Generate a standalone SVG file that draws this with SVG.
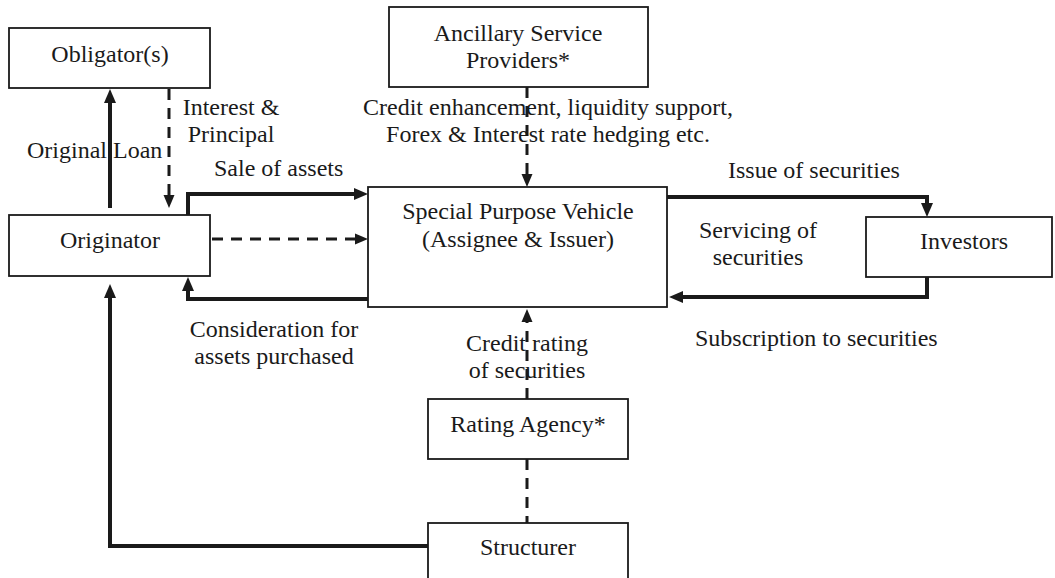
<svg xmlns="http://www.w3.org/2000/svg" width="1055" height="578" viewBox="0 0 1055 578">
<style>
.box{fill:#fff;stroke:#1a1a1a;stroke-width:1.8}
text{font-family:"Liberation Serif","Times New Roman",serif;font-size:24px;fill:#1a1a1a}
.c{text-anchor:middle}
.thick{fill:none;stroke:#1a1a1a;stroke-width:4}
.dash{fill:none;stroke:#1a1a1a;stroke-width:3;stroke-dasharray:11 8}
</style>
<defs>
<marker id="ah" markerUnits="userSpaceOnUse" markerWidth="14" markerHeight="12" refX="0" refY="6" orient="auto" overflow="visible">
<path d="M0,0 L14,6 L0,12 z" fill="#1a1a1a"/>
</marker>
<marker id="ahs" markerUnits="userSpaceOnUse" markerWidth="13" markerHeight="11" refX="0" refY="5.5" orient="auto" overflow="visible">
<path d="M0,0 L13,5.5 L0,11 z" fill="#1a1a1a"/>
</marker>
</defs>
<g id="connectors">
<path class="thick" d="M110,208 V103" marker-end="url(#ah)"/>
<path class="dash" d="M169,89 V195" marker-end="url(#ahs)"/>
<path class="thick" d="M188,215 V194 H354" marker-end="url(#ah)"/>
<path class="dash" d="M212,239 H355" marker-end="url(#ahs)"/>
<path class="thick" d="M368,299 H188 V291" marker-end="url(#ah)"/>
<path class="thick" d="M428,546 H110 V298" marker-end="url(#ah)"/>
<path class="dash" d="M527,87 V174" marker-end="url(#ahs)"/>
<path class="thick" d="M667,197 H927 V203" marker-end="url(#ah)"/>
<path class="thick" d="M927,277 V297 H683" marker-end="url(#ah)"/>
<path class="dash" d="M527,399 V322" marker-end="url(#ahs)"/>
<path class="dash" d="M527,459 V523"/>
</g>
<g id="obligators">
<rect class="box" x="9" y="28" width="201" height="60"/>
<text class="c" x="110" y="62">Obligator(s)</text>
</g>
<g id="ancillary">
<rect class="box" x="389" y="7" width="259" height="80"/>
<text class="c" x="518" y="41">Ancillary Service</text>
<text class="c" x="518" y="68">Providers*</text>
</g>
<g id="originator">
<rect class="box" x="9" y="215" width="201" height="61"/>
<text class="c" x="110" y="248">Originator</text>
</g>
<g id="spv">
<rect class="box" x="368" y="187" width="299" height="120"/>
<text class="c" x="518" y="219">Special Purpose Vehicle</text>
<text class="c" x="518" y="247">(Assignee &amp; Issuer)</text>
</g>
<g id="investors">
<rect class="box" x="866" y="217" width="186" height="60"/>
<text class="c" x="964" y="249">Investors</text>
</g>
<g id="rating">
<rect class="box" x="428" y="399" width="200" height="60"/>
<text class="c" x="528" y="432">Rating Agency*</text>
</g>
<g id="structurer">
<rect class="box" x="428" y="523" width="200" height="70"/>
<text class="c" x="528" y="555">Structurer</text>
</g>
<g id="labels">
<text class="c" x="231" y="115">Interest &amp;</text>
<text class="c" x="231" y="142">Principal</text>
<text x="27" y="158">Original Loan</text>
<text x="214" y="176">Sale of assets</text>
<text class="c" x="548" y="115">Credit enhancement, liquidity support,</text>
<text class="c" x="548" y="142">Forex &amp; Interest rate hedging etc.</text>
<text x="728" y="178">Issue of securities</text>
<text class="c" x="758" y="238">Servicing of</text>
<text class="c" x="758" y="265">securities</text>
<text x="695" y="346">Subscription to securities</text>
<text class="c" x="274" y="337">Consideration for</text>
<text class="c" x="274" y="364">assets purchased</text>
<text class="c" x="527" y="351">Credit rating</text>
<text class="c" x="527" y="378">of securities</text>
</g>
</svg>
